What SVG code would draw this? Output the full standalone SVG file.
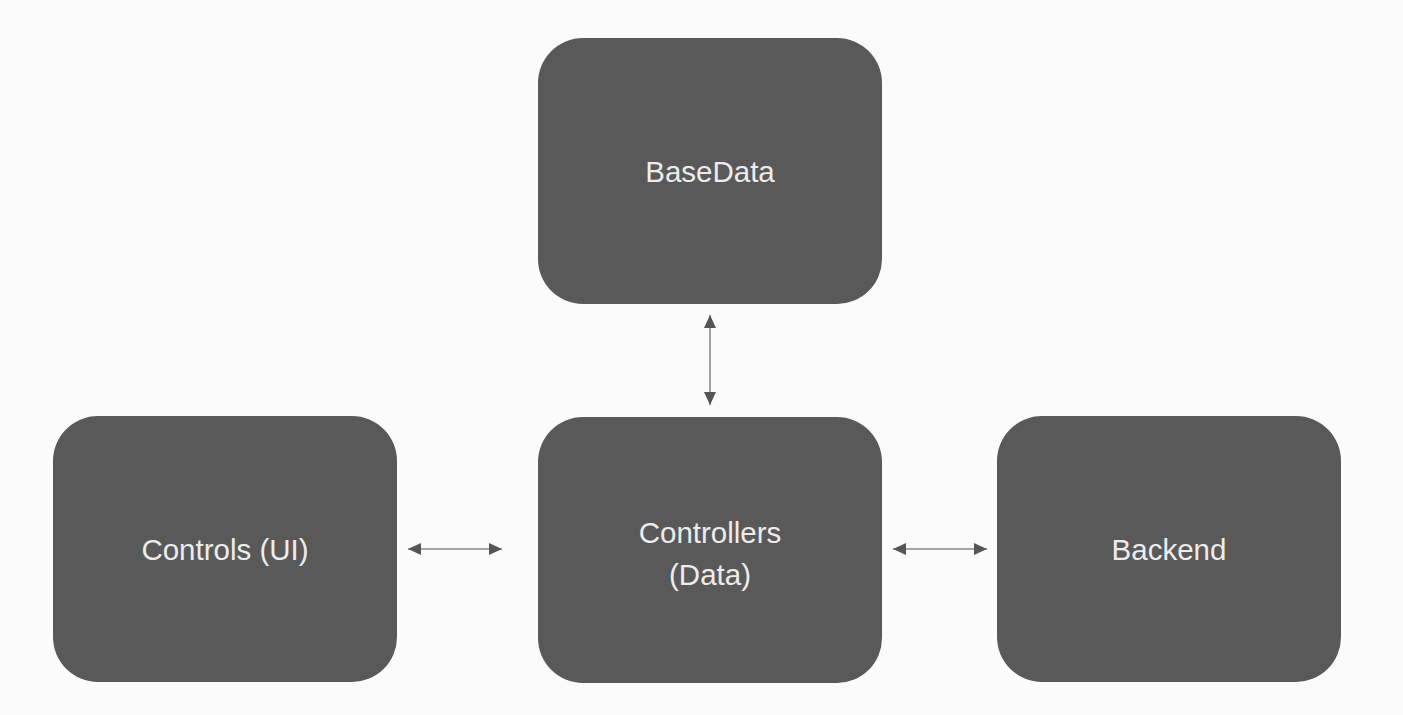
<svg xmlns="http://www.w3.org/2000/svg" width="1403" height="715" viewBox="0 0 1403 715">
<defs>
<style>
.box{fill:#595959;}
.lbl{fill:#ececec;font-family:"Liberation Sans",Arial,sans-serif;font-size:29.5px;text-anchor:middle;}
.conn{stroke:#8a8a8a;stroke-width:1.6;fill:none;}
</style>
<marker id="ah" viewBox="0 0 10 10" refX="10" refY="5" markerWidth="13" markerHeight="12" markerUnits="userSpaceOnUse" orient="auto-start-reverse" preserveAspectRatio="none">
<path d="M0,0 L10,5 L0,10 z" fill="#555"/>
</marker>
</defs>
<rect width="1403" height="715" fill="#fbfbfb"/>
<g id="connectors">
<line class="conn" x1="408" y1="549" x2="502" y2="549" marker-start="url(#ah)" marker-end="url(#ah)"/>
<line class="conn" x1="893" y1="549" x2="987" y2="549" marker-start="url(#ah)" marker-end="url(#ah)"/>
<line class="conn" x1="710" y1="315" x2="710" y2="405" marker-start="url(#ah)" marker-end="url(#ah)"/>
</g>
<g id="basedata">
<rect class="box" x="538" y="38" width="344" height="266" rx="45"/>
<text class="lbl" x="710" y="182">BaseData</text>
</g>
<g id="controls">
<rect class="box" x="53" y="416" width="344" height="266" rx="45"/>
<text class="lbl" x="225" y="560">Controls (UI)</text>
</g>
<g id="controllers">
<rect class="box" x="538" y="417" width="344" height="266" rx="45"/>
<text class="lbl" x="710" y="543">Controllers</text>
<text class="lbl" x="710" y="585">(Data)</text>
</g>
<g id="backend">
<rect class="box" x="997" y="416" width="344" height="266" rx="45"/>
<text class="lbl" x="1169" y="560">Backend</text>
</g>
</svg>
